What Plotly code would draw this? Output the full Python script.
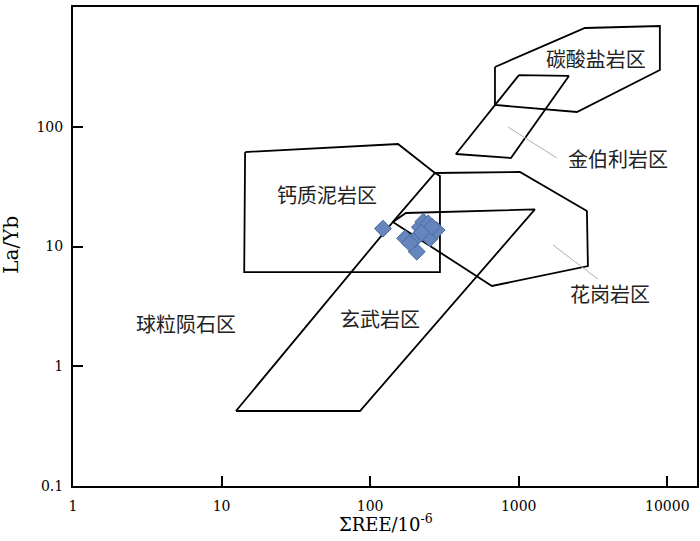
import numpy as np
import plotly.graph_objects as go

# ---- data ----
sample_ree = [122, 172, 206, 200, 216, 228, 246, 237, 253, 280, 261, 222, 185]
sample_layb = [14.1, 11.7, 9.05, 11.5, 14.5, 16.1, 15.6, 12.9, 11.7, 13.7, 14.6, 13.0, 10.7]

mudstone_x = [14.4, 154, 273, 295, 295, 14.2]
mudstone_y = [61.5, 71.8, 41.1, 38.8, 6.12, 6.12]

basalt_x = [12.5, 85.4, 1285, 174, 142.3]
basalt_y = [0.423, 0.423, 20.4, 19.05, 16.03]

granite_x = [142.3, 273, 1019, 2877, 2923, 660]
granite_y = [16.03, 41.1, 41.9, 19.8, 6.87, 4.68]

kimberlite_x = [1003, 2177, 886, 378]
kimberlite_y = [270, 265.5, 54.8, 59.2]

carbonatite_x = [692, 2790, 8913, 8913, 2465, 692]
carbonatite_y = [315.7, 668, 694, 297.8, 132.8, 152]

leader_kimb_x = [846, 1807]
leader_kimb_y = [99.5, 54.8]
leader_gran_x = [1699, 3412]
leader_gran_y = [10.3, 5.35]

label_text = ["碳酸盐岩区", "金伯利岩区", "花岗岩区", "钙质泥岩区", "玄武岩区", "球粒陨石区"]
label_x = [3307, 4654, 4110, 51.2, 116.4, 5.76]
label_y = [347, 50.8, 3.79, 25.4, 2.34, 2.13]

x_ticks = [1, 10, 100, 1000, 10000]
x_ticktext = ["1", "10", "100", "1000", "10000"]
y_ticks = [0.1, 1, 10, 100, 1000]
y_ticktext = ["0.1", "1", "10", "100", "1000"]

SERIF = "DejaVu Serif"
CJK = "Noto Sans CJK SC"

fig = go.Figure()

def poly(xs, ys):
    fig.add_trace(go.Scatter(
        x=list(xs) + [xs[0]], y=list(ys) + [ys[0]], mode="lines",
        line=dict(color="black", width=1.8), hoverinfo="skip", showlegend=False))

for xs, ys in [(mudstone_x, mudstone_y), (basalt_x, basalt_y), (granite_x, granite_y),
               (kimberlite_x, kimberlite_y), (carbonatite_x, carbonatite_y)]:
    poly(xs, ys)

for xs, ys in [(leader_kimb_x, leader_kimb_y), (leader_gran_x, leader_gran_y)]:
    fig.add_trace(go.Scatter(x=xs, y=ys, mode="lines",
                             line=dict(color="#b0b0b0", width=1),
                             hoverinfo="skip", showlegend=False))

fig.add_trace(go.Scatter(
    x=sample_ree, y=sample_layb, mode="markers",
    marker=dict(symbol="diamond", size=13, color="#6685BC",
                line=dict(color="#4A6BA3", width=1)),
    showlegend=False))

fig.add_trace(go.Scatter(
    x=label_x, y=label_y, mode="text", text=label_text,
    textfont=dict(family=CJK, size=20, color="#222222"),
    textposition="middle center", hoverinfo="skip", showlegend=False))

axis_common = dict(
    type="log", showgrid=False, zeroline=False, automargin=False,
    showline=True, linecolor="black", linewidth=2, mirror=True,
    ticks="inside", ticklen=10, tickwidth=1.5, tickcolor="black",
    tickfont=dict(family=SERIF, size=14, color="black"),
)

fig.update_xaxes(range=[0, 4.2], tickvals=x_ticks, ticktext=x_ticktext, ticklabelstandoff=6, **axis_common)
fig.update_yaxes(range=[-1, 3], tickvals=y_ticks, ticktext=y_ticktext, ticklabelstandoff=5, **axis_common)

fig.add_annotation(text="ΣREE/10<sup>-6</sup>", xref="paper", yref="paper",
                   x=0.502, y=-0.077, xanchor="center", yanchor="middle", showarrow=False,
                   font=dict(family=SERIF, size=18, color="black"))
fig.add_annotation(text="La/Yb", xref="paper", yref="paper", textangle=-90,
                   x=-0.1, y=0.503, xanchor="center", yanchor="middle", showarrow=False,
                   font=dict(family=SERIF, size=20, color="black"))

fig.update_layout(
    width=700, height=541,
    margin=dict(l=73, r=3, t=7, b=55, autoexpand=False),
    paper_bgcolor="white", plot_bgcolor="white",
    showlegend=False,
)

fig.write_html("out.html", config={"displayModeBar": False},
               post_script="document.body.style.margin='0px';document.body.style.padding='0px';")
